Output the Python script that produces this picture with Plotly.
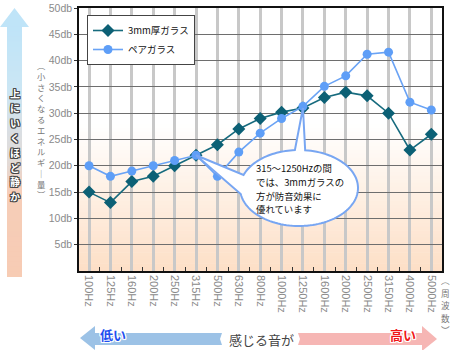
import plotly.graph_objects as go
import numpy as np

# ---------------- data ----------------
freqs = ["100Hz", "125Hz", "160Hz", "200Hz", "250Hz", "315Hz", "500Hz", "630Hz",
         "800Hz", "1000Hz", "1250Hz", "1600Hz", "2000Hz", "2500Hz", "3150Hz",
         "4000Hz", "5000Hz"]
glass_3mm = [15, 13, 17, 18, 20, 22, 24, 27, 29, 30.2, 31, 33, 34, 33.3, 30, 23, 26]
pair_glass = [20, 18, 19, 20, 21, 22, 18, 22.6, 26.2, 29, 31.3, 35.1, 37.1, 41.2, 41.6, 32.1, 30.6]
y_ticks = [5, 10, 15, 20, 25, 30, 35, 40, 45, 50]
y_labels = [f"{v}db" for v in y_ticks]
series_names = ["3mm厚ガラス", "ペアガラス"]
callout_lines = ["315～1250Hzの間", "では、3mmガラスの", "方が防音効果に", "優れています"]
y_title_chars = list("︵小さくなるエネルギ｜量︶")
x_title_chars = list("︵周波数︶")
side_chars = list("上にいくほど静か")

# ---------------- geometry helpers ----------------
W, H = 470, 350
L, R, T, B = 79, 442, 8, 271
XR = [-0.47, 16.5]
YR = [0, 50]
JP = "Noto Sans CJK JP"


def px(x):
    return (x - L) / (R - L)


def py(y):
    return (B - y) / (B - T)


def xd(x):
    return XR[0] + (x - L) / (R - L) * (XR[1] - XR[0])


def yd(y):
    return YR[0] + (B - y) / (B - T) * (YR[1] - YR[0])


def hexmix(c1, c2, t):
    a = [int(c1[i:i + 2], 16) for i in (1, 3, 5)]
    b = [int(c2[i:i + 2], 16) for i in (1, 3, 5)]
    return "#" + "".join(f"{int(round(a[k] + (b[k] - a[k]) * t)):02x}" for k in range(3))


def grad_color(stops, y):
    for (y0, c0), (y1, c1) in zip(stops[:-1], stops[1:]):
        if y0 <= y <= y1:
            return hexmix(c0, c1, (y - y0) / (y1 - y0) if y1 > y0 else 0)
    return stops[-1][1] if y > stops[-1][0] else stops[0][1]


xi = list(range(len(freqs)))

fig = go.Figure()
fig.add_trace(go.Scatter(
    x=xi, y=glass_3mm, name=series_names[0], mode="lines+markers",
    line=dict(color="#176b7e", width=1.6),
    marker=dict(symbol="diamond", size=10, color="#0c6075"),
))
fig.add_trace(go.Scatter(
    x=xi, y=pair_glass, name=series_names[1], mode="lines+markers",
    line=dict(color="#6aa3f5", width=1.6),
    marker=dict(symbol="circle", size=9, color="#5e9ef7"),
))

shapes = []
# plot-area gradient (white -> peach)
g_top, g_bot = 125, B
n = 40
for k in range(n):
    y0 = g_top + (g_bot - g_top) * k / n
    y1 = g_top + (g_bot - g_top) * (k + 1) / n
    c = hexmix("#ffffff", "#fddfc6", (k + 0.5) / n)
    shapes.append(dict(type="rect", xref="paper", yref="paper", x0=0, x1=1,
                       y0=py(y1), y1=py(y0) + 0.002, fillcolor=c,
                       line=dict(width=0), layer="below"))

# left vertical arrow (gradient)
stops = [(27, "#bfe4f8"), (90, "#cbe6f4"), (130, "#d9dfe4"), (165, "#e3dad6"),
         (192, "#f6cdb8"), (277, "#f7ccb4")]
shapes.append(dict(type="path", xref="paper", yref="paper",
                   path=f"M {px(0)},{py(27)} L {px(14.5)},{py(8)} L {px(29)},{py(27)} Z",
                   fillcolor="#bfe4f8", line=dict(width=0), layer="above"))
m = 50
for k in range(m):
    y0 = 27 + (277 - 27) * k / m
    y1 = 27 + (277 - 27) * (k + 1) / m
    shapes.append(dict(type="rect", xref="paper", yref="paper", x0=px(7), x1=px(22),
                       y0=py(y1), y1=py(y0) + 0.003,
                       fillcolor=grad_color(stops, (y0 + y1) / 2),
                       line=dict(width=0), layer="above"))

# bottom arrows
shapes.append(dict(type="path", xref="paper", yref="paper",
                   path=(f"M {px(80)},{py(338)} L {px(95)},{py(326)} L {px(95)},{py(333)} "
                         f"L {px(222)},{py(333)} L {px(220)},{py(339)} L {px(222)},{py(345)} "
                         f"L {px(95)},{py(345)} L {px(95)},{py(350)} Z"),
                   fillcolor="#9cc2e6", line=dict(width=0), layer="above"))
shapes.append(dict(type="path", xref="paper", yref="paper",
                   path=(f"M {px(437)},{py(339)} L {px(422)},{py(326)} L {px(422)},{py(333)} "
                         f"L {px(298)},{py(333)} L {px(300)},{py(339)} L {px(298)},{py(345)} "
                         f"L {px(422)},{py(345)} L {px(422)},{py(351)} Z"),
                   fillcolor="#f6b6b4", line=dict(width=0), layer="above"))

# callout balloon (ellipse + two tails) in data coords
cx, cy, rx, ry = 299, 188, 59, 38


def ell(deg):
    t = np.deg2rad(deg)
    return (cx + rx * np.cos(t), cy + ry * np.sin(t))


pts = []
for a in np.linspace(-160, -94, 30):
    pts.append(ell(a))
tip2 = (10, glass_3mm[10])
pts.append(("D", tip2))
for a in np.linspace(-84, 171, 90):
    pts.append(ell(a))
tip1 = (5, glass_3mm[5])
pts.append(("D", tip1))
segs = []
for p in pts:
    if p[0] == "D":
        segs.append((p[1][0], p[1][1]))
    else:
        segs.append((xd(p[0]), yd(p[1])))
path = "M " + " L ".join(f"{a:.4f},{b:.4f}" for a, b in segs) + " Z"
shapes.append(dict(type="path", xref="x", yref="y", path=path,
                   fillcolor="#ffffff", line=dict(color="#78a6f2", width=2),
                   layer="above"))

annotations = []
# callout text, one annotation per line
for i, line in enumerate(callout_lines):
    annotations.append(dict(x=px(254), y=py(168 + i * 13.8), xref="paper", yref="paper",
                            text=line, showarrow=False, xanchor="left", yanchor="middle",
                            font=dict(family=JP, size=9.4, color="#111111")))

# y title (vertical stacked chars)
annotations.append(dict(x=px(41), y=py(129), xref="paper", yref="paper",
                        text="<br>".join(y_title_chars), showarrow=False,
                        xanchor="center", yanchor="middle",
                        font=dict(family=JP, size=8.3, color="#777777")))
# x title, one char per annotation
for i, ch in enumerate(x_title_chars):
    annotations.append(dict(x=px(446), y=py(280 + i * 12.6), xref="paper", yref="paper",
                            text=ch, showarrow=False, xanchor="center", yanchor="middle",
                            font=dict(family=JP, size=8.6, color="#777777")))
# side arrow text
outline = ("1px 1px 0 #444, -1px -1px 0 #444, 1px -1px 0 #444, -1px 1px 0 #444, "
           "0 1px 0 #444, 0 -1px 0 #444, 1px 0 0 #444, -1px 0 0 #444")
for i, ch in enumerate(side_chars):
    annotations.append(dict(x=px(14.5), y=py(93 + i * 14.8), xref="paper", yref="paper",
                            text=f"<b>{ch}</b>", showarrow=False, xanchor="center",
                            yanchor="middle",
                            font=dict(family=JP, size=10, color="#ffffff", shadow=outline)))
white_outline = outline.replace("#444", "#ffffff")
annotations.append(dict(x=px(113), y=py(334), xref="paper", yref="paper",
                        text="<b>低い</b>", showarrow=False, xanchor="center", yanchor="middle",
                        font=dict(family=JP, size=13, color="#1f4ff0", shadow=white_outline)))
annotations.append(dict(x=px(403), y=py(334), xref="paper", yref="paper",
                        text="<b>高い</b>", showarrow=False, xanchor="center", yanchor="middle",
                        font=dict(family=JP, size=13, color="#f01616", shadow=white_outline)))
annotations.append(dict(x=px(261), y=py(339), xref="paper", yref="paper",
                        text="感じる音が", showarrow=False, xanchor="center", yanchor="middle",
                        font=dict(family=JP, size=13, color="#444444")))

fig.update_layout(
    width=W, height=H,
    margin=dict(l=L, r=W - R, t=T, b=H - B, pad=0, autoexpand=False),
    paper_bgcolor="#ffffff", plot_bgcolor="#ffffff",
    showlegend=True,
    legend=dict(x=px(87), y=py(15), xanchor="left", yanchor="top",
                bgcolor="#ffffff", bordercolor="#444444", borderwidth=1,
                font=dict(family=JP, size=9.5, color="#111111"),
                itemwidth=30, tracegroupgap=0),
    shapes=shapes,
    annotations=annotations,
    xaxis=dict(range=XR, tickmode="array", tickvals=xi, ticktext=freqs,
               tickangle=90, ticks="", showgrid=True, gridcolor="#c8c8c8", gridwidth=2.5,
               showline=True, linecolor="#111111", linewidth=1.5, mirror=True,
               zeroline=False, automargin=False,
               tickfont=dict(family="Liberation Sans", size=11, color="#8a8a8a"),
               minor=dict(tickvals=[v + 0.5 for v in xi[:-1]], ticks="inside",
                          ticklen=4, tickcolor="#333333", showgrid=False),
               fixedrange=True),
    yaxis=dict(range=YR, tickmode="array", tickvals=y_ticks, ticktext=y_labels,
               ticks="outside", ticklen=3, tickcolor="#333333",
               showgrid=True, gridcolor="#6e6e6e", gridwidth=1,
               showline=True, linecolor="#111111", linewidth=1.5, mirror=True,
               zeroline=False, automargin=False,
               tickfont=dict(family="Liberation Sans", size=10.5, color="#8a8a8a"),
               fixedrange=True),
)

fig.write_html("out.html")
